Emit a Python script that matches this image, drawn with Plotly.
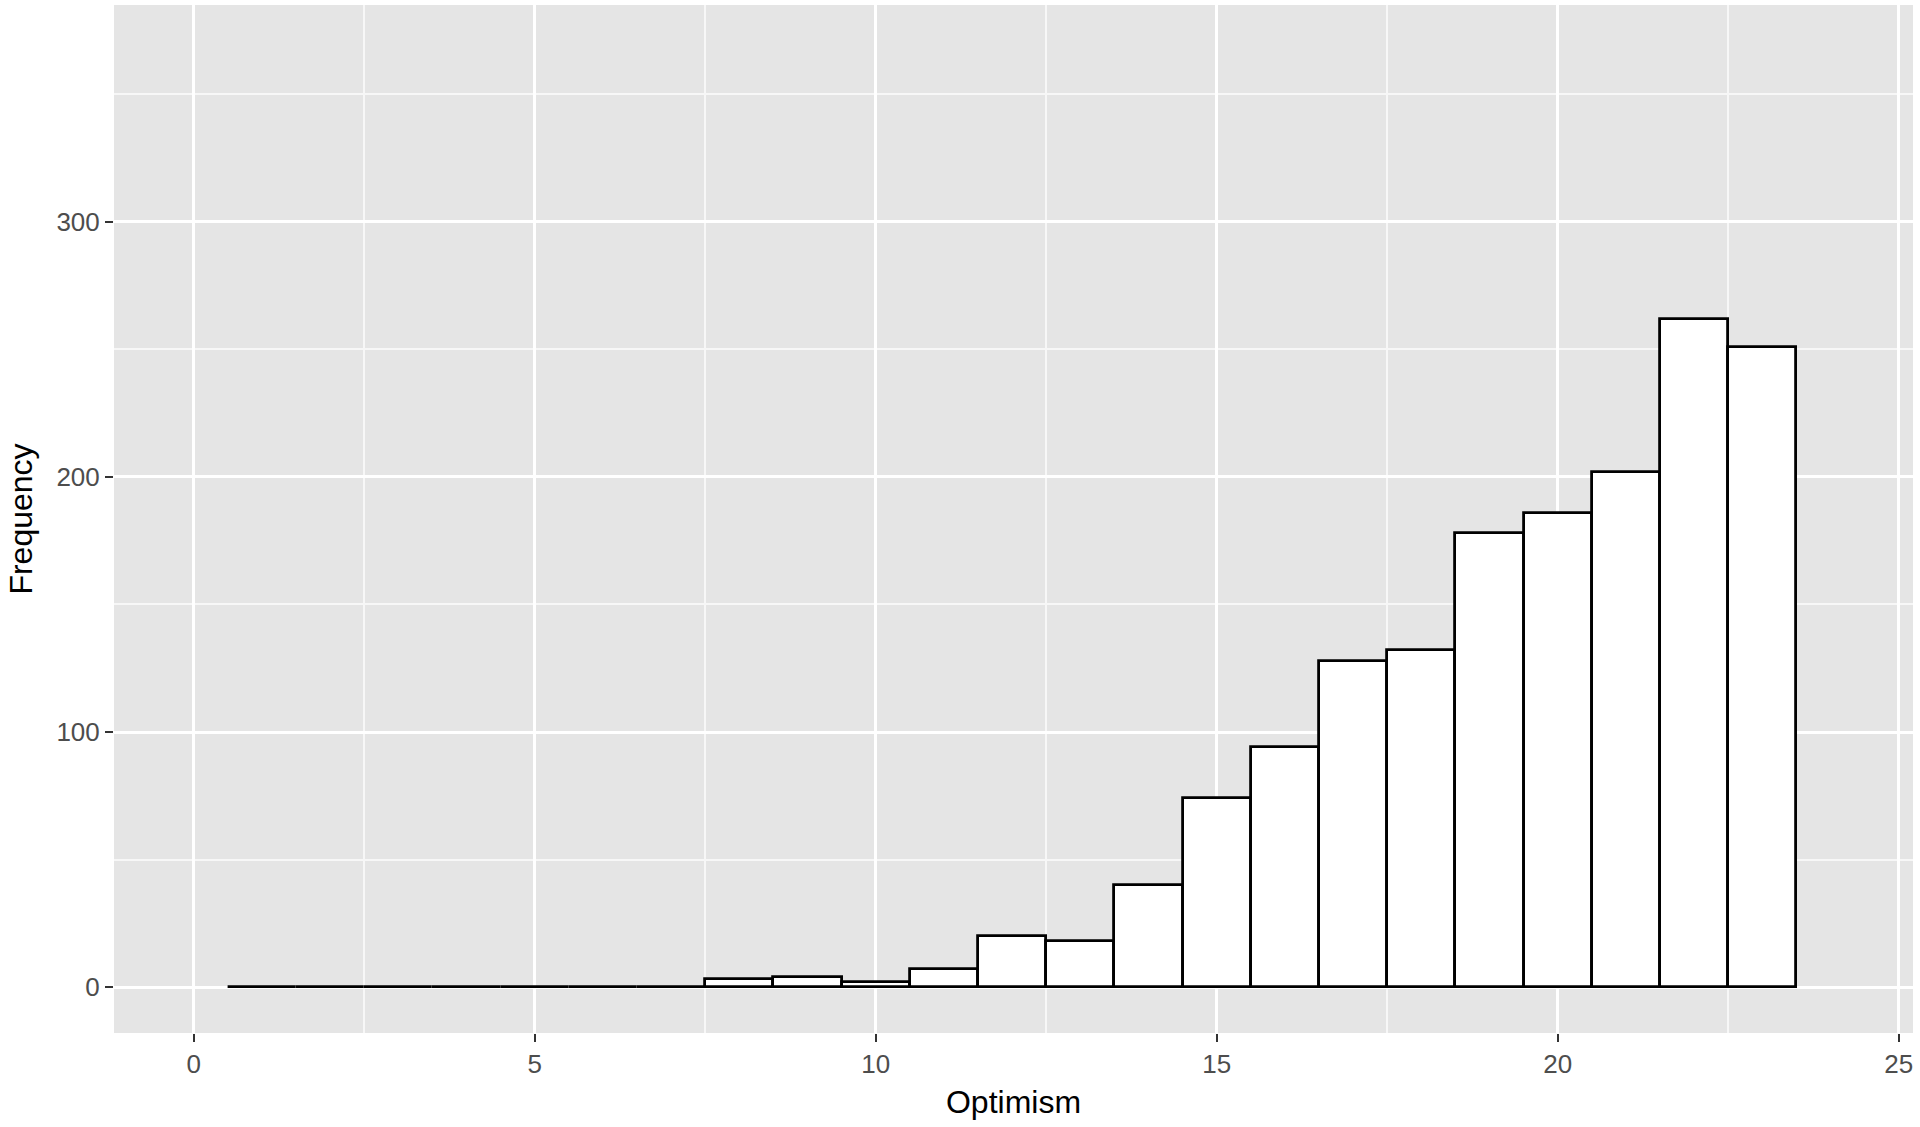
import plotly.graph_objects as go

# Histogram bins (centers) and counts
bin_centers = list(range(1, 24))
counts = [0, 0, 0, 0, 0, 0, 0, 3, 4, 2, 7, 20, 18, 40, 74, 94, 128, 132, 178, 186, 202, 262, 251]
x_ticks = [0, 5, 10, 15, 20, 25]
y_ticks = [0, 100, 200, 300]

FONT = "Liberation Sans, Arial, Helvetica, sans-serif"

fig = go.Figure()
fig.add_trace(go.Bar(
    x=bin_centers,
    y=counts,
    width=1,
    marker=dict(color="white", line=dict(color="black", width=2.8)),
    showlegend=False,
    hoverinfo="x+y",
))

fig.update_layout(
    width=1920,
    height=1127,
    margin=dict(l=114, r=7, t=5, b=94),
    paper_bgcolor="white",
    plot_bgcolor="#E5E5E5",
    bargap=0,
    font=dict(family=FONT, color="black"),
    xaxis=dict(
        range=[-1.17, 25.21],
        tickvals=x_ticks,
        ticktext=[str(v) for v in x_ticks],
        showgrid=True,
        gridcolor="white",
        gridwidth=2.5,
        zeroline=False,
        ticks="outside",
        ticklen=8,
        tickwidth=2,
        tickcolor="#333333",
        tickfont=dict(size=26, color="#4D4D4D", family=FONT),
        minor=dict(tickvals=[-2.5, 2.5, 7.5, 12.5, 17.5, 22.5], showgrid=True,
                   gridcolor="#F7F7F7", gridwidth=1.5, ticks=""),
        title=dict(text="Optimism", font=dict(size=32, color="black", family=FONT), standoff=12),
        automargin=False,
        showline=False,
    ),
    yaxis=dict(
        range=[-18, 385],
        tickvals=y_ticks,
        ticktext=[str(v) for v in y_ticks],
        showgrid=True,
        gridcolor="white",
        gridwidth=2.5,
        zeroline=False,
        ticks="outside",
        ticklen=8,
        tickwidth=2,
        tickcolor="#333333",
        tickfont=dict(size=26, color="#4D4D4D", family=FONT),
        minor=dict(tickvals=[50, 150, 250, 350], showgrid=True,
                   gridcolor="#F7F7F7", gridwidth=1.5, ticks=""),
        title=dict(text="Frequency", font=dict(size=32, color="black", family=FONT), standoff=14),
        automargin=False,
        showline=False,
    ),
)

fig.write_html("out.html", config={"displayModeBar": False},
               post_script="document.body.style.margin='0';")
